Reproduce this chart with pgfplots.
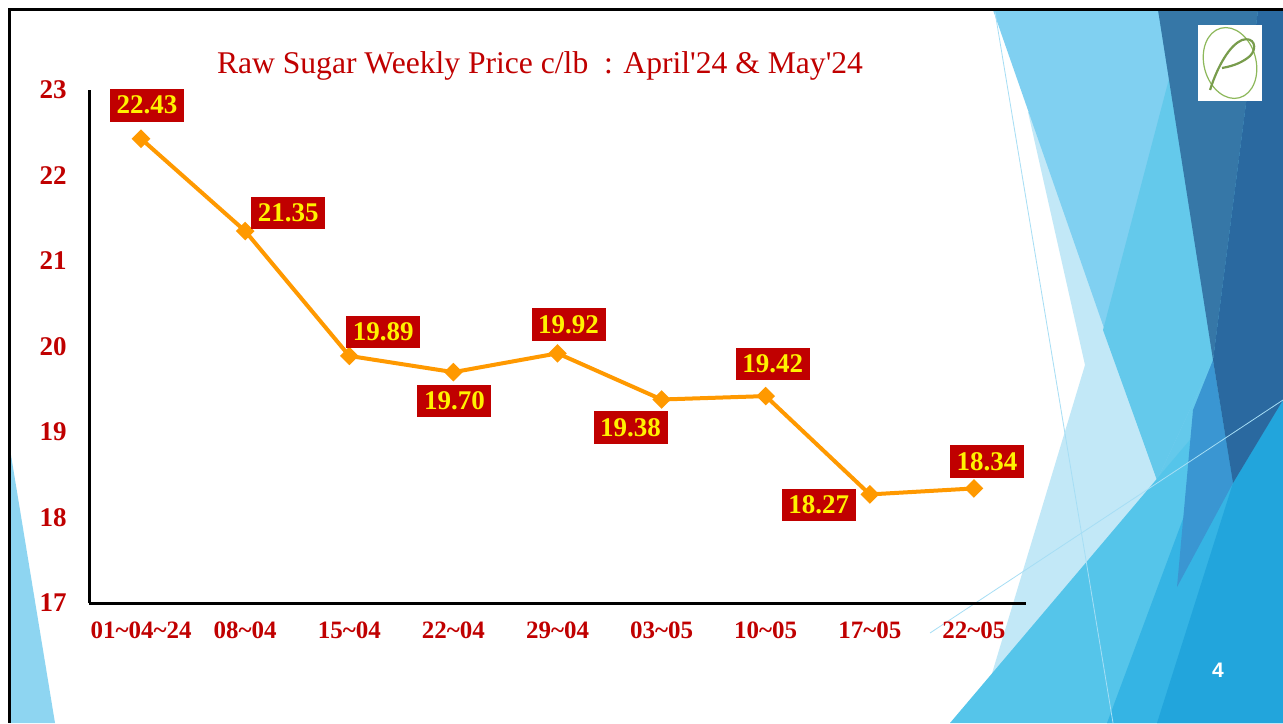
\documentclass[border=0pt]{standalone}
\usepackage{pgfplots}
\pgfplotsset{compat=1.18}
\usepackage{fontspec}
\setmainfont{Liberation Serif}
\newfontfamily\sansf{Liberation Sans}
\definecolor{dred}{HTML}{C00000}
\definecolor{lineor}{HTML}{FF9900}
\definecolor{cLight}{HTML}{80D0F1}
\definecolor{cMid}{HTML}{64C9EB}
\definecolor{cVL}{HTML}{C2E8F7}
\definecolor{cM}{HTML}{55C5EA}
\definecolor{cB1}{HTML}{35B4E4}
\definecolor{cB2}{HTML}{22A5DC}
\definecolor{cMD}{HTML}{3A96D2}
\definecolor{cD1}{HTML}{3677A7}
\definecolor{cD2}{HTML}{2A69A0}
\definecolor{cLB}{HTML}{8ED5F1}
\definecolor{logog}{HTML}{8DB85A}
\begin{document}
\begin{tikzpicture}
\useasboundingbox (0,0) rectangle (641.5pt,361.5pt);
\fill[white] (0,0) rectangle (641.5pt,361.5pt);
\begin{scope}[shift={(0pt,361.5pt)}, x=0.5pt, y=-0.5pt]
  % right decoration
  \fill[cMid] (1158,10) -- (1283,10) -- (1283,723) -- (1157,480) -- (1100,313) -- cycle;
  \fill[cVL] (1028,112) -- (1160,112) -- (1157,480) -- (990,680) -- (1085,365) -- cycle;
  \fill[cLight] (993,10) -- (1158,10) -- (1213,360) -- (1157,480) -- cycle;
  \fill[cMid] (1170,75) -- (1213,360) -- (1157,480) -- (1103,330) -- cycle;
  \fill[cM] (1283,330) -- (950,723) -- (1283,723) -- cycle;
  \fill[cB1] (1190,500) -- (1107,723) -- (1283,723) -- (1283,330) -- cycle;
  \fill[cB2] (1233,483) -- (1283,400) -- (1283,723) -- (1157,723) -- cycle;
  \fill[cMD] (1213,360) -- (1233,483) -- (1177,587) -- (1193,410) -- cycle;
  \fill[cD1] (1158,10) -- (1258,10) -- (1213,360) -- cycle;
  \fill[cD2] (1258,10) -- (1283,10) -- (1283,400) -- (1233,483) -- (1213,360) -- cycle;
  \draw[cLight!70!white, line width=0.4pt] (995,12) -- (1113,723);
  \draw[cLight!70!white, line width=0.4pt] (930,633) -- (1283,400);
  % left decoration
  \fill[cLB] (9,443) -- (9,723) -- (55,723) -- cycle;
\end{scope}
\begin{axis}[
  at={(44.5pt,60pt)}, anchor=south west,
  width=468.5pt, height=256.5pt, scale only axis,
  xmin=-0.5, xmax=8.5, ymin=17, ymax=23,
  axis lines*=left,
  axis line style={black, line width=1.5pt},
  major tick length=0pt,
  xtick={0,...,8},
  xticklabels={01\textasciitilde 04\textasciitilde 24, 08\textasciitilde 04, 15\textasciitilde 04, 22\textasciitilde 04, 29\textasciitilde 04, 03\textasciitilde 05, 10\textasciitilde 05, 17\textasciitilde 05, 22\textasciitilde 05},
  ytick={17,18,...,23},
  /pgf/number format/assume math mode=true,
  xticklabel style={font=\bfseries\fontsize{12.5}{14}\selectfont, text=dred, anchor=base, inner sep=0pt, yshift=-17.5pt},
  yticklabel style={font=\bfseries\fontsize{13.5}{15}\selectfont, text=dred, anchor=east, inner sep=0pt, xshift=-11pt},
  clip=false,
  point meta=y,
  visualization depends on={\thisrow{dx}\as\dx},
  visualization depends on={\thisrow{dy}\as\dy},
  nodes near coords={\pgfmathprintnumber[fixed,fixed zerofill,precision=2]{\pgfplotspointmeta}},
  every node near coord/.append style={fill=dred, text=yellow, font=\bfseries\fontsize{13.5}{15}\selectfont,
    inner sep=0pt, minimum width=37pt, minimum height=16.3pt, anchor=center,
    xshift={(\dx)*0.5pt}, yshift={-(\dy)*0.5pt}},
]
\addplot[color=lineor, line width=2pt, mark=square*, mark size=2.3pt, mark options={rotate=45, fill=lineor, draw=lineor}]
table[x=x, y=y] {
x y dx dy
0 22.43 6 -33.5
1 21.35 43 -18
2 19.89 34 -24
3 19.70 1 29
4 19.92 11 -29
5 19.38 -31 28
6 19.42 7 -32
7 18.27 -51 10.5
8 18.34 13 -27
};
\end{axis}
\begin{scope}[shift={(0pt,361.5pt)}, x=0.5pt, y=-0.5pt]
  % title
  \node[anchor=base, text=dred, font=\fontsize{15.8}{18}\selectfont, inner sep=0pt] at (540,74)
    {Raw Sugar Weekly Price c/lb\ \ : April\textquotesingle 24 \& May\textquotesingle 24};
  % logo
  \fill[white] (1198,25) rectangle (1262,101);
  \draw[logog, line width=0.6pt, rotate around={15:(1230,63)}] (1230,63) ellipse [x radius=26, y radius=36];
  \draw[logog!85!black, line width=1.1pt] (1210,90) .. controls (1218,65) and (1230,45) .. (1242,40)
     .. controls (1254,36) and (1258,48) .. (1250,56) .. controls (1243,62) and (1234,66) .. (1222,68);
  % page number
  \node[text=white, font=\sansf\bfseries\fontsize{10.5}{12}\selectfont, inner sep=0pt] at (1218,670) {4};
  % frame
  \draw[black, line width=1.5pt] (9,723) -- (9,10) -- (1283,10);
\end{scope}
\end{tikzpicture}
\end{document}
